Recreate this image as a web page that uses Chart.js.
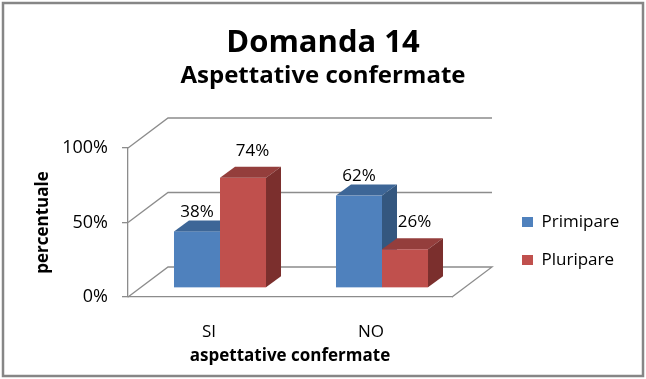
<!DOCTYPE html>
<html>
<head>
<meta charset="utf-8">
<script src="https://cdn.jsdelivr.net/npm/chart.js@4.4.0/dist/chart.umd.min.js"></script>
<style>
  html, body { margin: 0; padding: 0; background: #ffffff; }
  #wrap { width: 646px; height: 379px; }
  canvas { display: block; }
</style>
</head>
<body>
<div id="wrap"><canvas id="c" width="646" height="379"></canvas></div>
<script>
// ---- data ----
const categories = ['SI', 'NO'];
const primipare = [38, 62];
const pluripare = [74, 26];
const seriesNames = ['Primipare', 'Pluripare'];
const yTicks = [0, 50, 100];

// ---- style ----
const FONT = 'Open Sans';
const GRID = '#8c8c8c';
const WALL = { dx: 40, dy: 30 };      // back wall depth offset
const SHIFT = { dx: 11, dy: 9 };      // bar front faces sit inside the depth
const BAR = { dx: 15, dy: 11 };       // bar own depth
const faces = [
  { front: '#4F81BD', top: '#3D6697', side: '#34577F', label: { dx: 0, dy: -19 } },
  { front: '#C0504D', top: '#943E3C', side: '#7B2F2D', label: { dx: 9.5, dy: -27 } }
];

function poly(ctx, pts, color) {
  ctx.beginPath();
  ctx.moveTo(pts[0][0], pts[0][1]);
  for (let i = 1; i < pts.length; i++) ctx.lineTo(pts[i][0], pts[i][1]);
  ctx.closePath();
  ctx.fillStyle = color;
  ctx.fill();
}

const threeD = {
  id: 'threeD',
  beforeDraw(chart) {
    const ctx = chart.ctx;
    ctx.save();
    ctx.fillStyle = '#ffffff';
    ctx.fillRect(0, 0, chart.width, chart.height);
    ctx.restore();
  },
  afterLayout(chart) {
    const lg = chart.legend, ca = chart.chartArea;
    const w = lg.width;
    lg.left = ca.right + 49;
    lg.right = lg.left + w;
    lg.top = ca.top + 18.5;
    lg.bottom = ca.bottom + 18.5;
  },
  beforeDatasetsDraw(chart) {
    const ctx = chart.ctx, ys = chart.scales.y;
    const { left, right } = chart.chartArea;
    ctx.save();
    ctx.strokeStyle = GRID;
    ctx.lineWidth = 1.3;
    yTicks.forEach((v, i) => {
      const py = ys.getPixelForValue(v);
      ctx.beginPath();
      ctx.moveTo(left, py);
      ctx.lineTo(left + WALL.dx, py - WALL.dy);
      ctx.lineTo(right + WALL.dx, py - WALL.dy);
      if (i === 0) ctx.lineTo(right, py);
      ctx.stroke();
    });
    ctx.restore();
  },
  beforeDatasetDraw() { return false; },
  afterDatasetsDraw(chart) {
    const ctx = chart.ctx;
    const metas = chart.data.datasets.map((d, i) => chart.getDatasetMeta(i));
    ctx.save();
    categories.forEach((c, j) => {
      metas.forEach((m, d) => {
        const el = m.data[j];
        const { x, y, base, width } = el.getProps(['x', 'y', 'base', 'width'], true);
        const f = faces[d];
        const l = x - width / 2 + SHIFT.dx, r = x + width / 2 + SHIFT.dx;
        const t = y - SHIFT.dy, b = base - SHIFT.dy;
        ctx.fillStyle = f.front;
        ctx.fillRect(l, t, r - l, b - t);
        poly(ctx, [[l, t], [l + BAR.dx, t - BAR.dy], [r + BAR.dx, t - BAR.dy], [r, t]], f.top);
        poly(ctx, [[r, t], [r + BAR.dx, t - BAR.dy], [r + BAR.dx, b - BAR.dy], [r, b]], f.side);
      });
    });
    ctx.font = '17px "' + FONT + '"';
    ctx.fillStyle = '#000000';
    ctx.textAlign = 'center';
    ctx.textBaseline = 'middle';
    metas.forEach((m, d) => {
      const vals = chart.data.datasets[d].data;
      m.data.forEach((el, j) => {
        const { x, y } = el.getProps(['x', 'y'], true);
        const f = faces[d];
        ctx.fillText(vals[j] + '%', x + SHIFT.dx + f.label.dx, y - SHIFT.dy + f.label.dy);
      });
    });
    ctx.restore();
  },
  afterDraw(chart) {
    const ctx = chart.ctx;
    ctx.save();
    ctx.strokeStyle = '#868686';
    ctx.lineWidth = 2.5;
    ctx.strokeRect(3, 3, chart.width - 6, chart.height - 6);
    ctx.restore();
  }
};

new Chart(document.getElementById('c'), {
  type: 'bar',
  plugins: [threeD],
  data: {
    labels: categories,
    datasets: [
      { label: seriesNames[0], data: primipare, backgroundColor: faces[0].front, borderWidth: 0 },
      { label: seriesNames[1], data: pluripare, backgroundColor: faces[1].front, borderWidth: 0 }
    ]
  },
  options: {
    responsive: false,
    animation: false,
    devicePixelRatio: 1,
    layout: { padding: 0 },
    categoryPercentage: 0.568,
    barPercentage: 1,
    plugins: {
      tooltip: { enabled: false },
      title: {
        display: true, text: 'Domanda 14', color: '#000000',
        font: { family: FONT, size: 31, weight: 'bold' },
        padding: { top: 24.4, bottom: 0 }
      },
      subtitle: {
        display: true, text: 'Aspettative confermate', color: '#000000',
        font: { family: FONT, size: 24, weight: 'bold' },
        padding: { top: 0, bottom: 57.6 }
      },
      legend: {
        position: 'chartArea',
        align: 'center',
        labels: {
          color: '#000000',
          font: { family: FONT, size: 17 },
          boxWidth: 11, boxHeight: 10, padding: 21
        }
      }
    },
    scales: {
      x: {
        grid: { display: false, drawTicks: false },
        border: { display: true, color: GRID, width: 1.3 },
        ticks: { color: '#000000', font: { family: FONT, size: 17 }, padding: 25 },
        title: {
          display: true, text: 'aspettative confermate', color: '#000000',
          font: { family: FONT, size: 17, weight: 'bold' },
          padding: { top: 0, bottom: 12.3 }
        },
        afterFit(s) { s.height = 82; }
      },
      y: {
        min: 0, max: 100,
        afterBuildTicks(s) { s.ticks = yTicks.map(v => ({ value: v })); },
        grid: { display: true, drawOnChartArea: false, drawTicks: true, tickLength: 6, color: GRID, lineWidth: 1.3 },
        border: { display: true, color: GRID, width: 1.3 },
        ticks: { color: '#000000', font: { family: FONT, size: 18 }, padding: 14, callback: v => v + '%' },
        title: {
          display: true, text: 'percentuale', color: '#000000',
          font: { family: FONT, size: 17, weight: 'bold' },
          padding: { top: 32.8, bottom: 0 }
        },
        afterFit(s) { s.width = 128; }
      },
      spacer: {
        type: 'linear', position: 'right', display: true,
        grid: { display: false, drawTicks: false },
        border: { display: false },
        ticks: { display: false },
        afterFit(s) { s.width = 194; }
      }
    }
  }
});
</script>
</body>
</html>
